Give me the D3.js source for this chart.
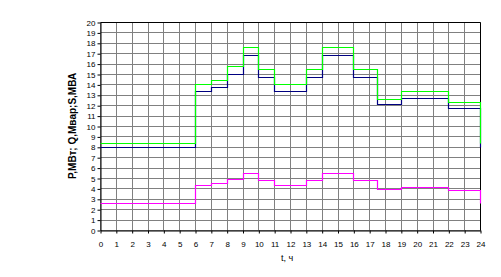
<!DOCTYPE html>
<html>
<head>
<meta charset="utf-8">
<script src="https://cdn.jsdelivr.net/npm/d3@7"></script>
<style>
  body { margin: 0; background: #fff; }
  text { font-family: "Liberation Sans", Arial, sans-serif; }
</style>
</head>
<body>
<div id="chart"></div>
<script>
// hour breakpoints of the load schedule
var hours = [0, 6, 7, 8, 9, 10, 11, 13, 14, 16, 17.5, 19, 22, 24];
// P, MW (navy)
var pValues = [8.0, 13.4, 13.75, 15.0, 16.8, 14.7, 13.4, 14.7, 16.8, 14.7, 12.1, 12.7, 11.75];
// S, MVA (green)
var sValues = [8.4, 14.05, 14.4, 15.8, 17.6, 15.5, 14.0, 15.5, 17.6, 15.5, 12.6, 13.35, 12.3];
// Q, Mvar (magenta)
var qValues = [2.6, 4.3, 4.5, 4.9, 5.5, 4.8, 4.3, 4.8, 5.5, 4.8, 3.9, 4.1, 3.8];

var xTicks = d3.range(0, 25);
var yTicks = d3.range(0, 21);

var svg = d3.select('#chart').append('svg')
    .attr('width', 501).attr('height', 277);

svg.append('rect').attr('width', 501).attr('height', 277).attr('fill', '#fff');

var x = d3.scaleLinear().domain([0, 24]).range([100.5, 480.5]);
var y = d3.scaleLinear().domain([0, 20]).range([230.5, 22.5]);

function px(v) { return Math.round(v - 0.5) + 0.5; }

// grid
var grid = svg.append('g');
grid.selectAll('.vg').data(xTicks).enter().append('line')
    .attr('x1', function(d) { return px(x(d)); })
    .attr('x2', function(d) { return px(x(d)); })
    .attr('y1', y(0)).attr('y2', y(20))
    .attr('stroke', '#808080').attr('stroke-width', 1);
grid.selectAll('.hg').data(yTicks).enter().append('line')
    .attr('y1', function(d) { return px(y(d)); })
    .attr('y2', function(d) { return px(y(d)); })
    .attr('x1', x(0)).attr('x2', x(24))
    .attr('stroke', '#808080').attr('stroke-width', 1);

// frame: top and right
svg.append('line').attr('x1', x(0)).attr('x2', x(24)).attr('y1', y(20)).attr('y2', y(20))
    .attr('stroke', '#000');
svg.append('line').attr('x1', x(24)).attr('x2', x(24)).attr('y1', y(20)).attr('y2', y(0))
    .attr('stroke', '#000');

// axes
var xAxis = d3.axisBottom(x).tickValues(xTicks).tickFormat(d3.format('d'))
    .tickSize(3).tickPadding(8).tickSizeOuter(0);
var yAxis = d3.axisLeft(y).tickValues(yTicks).tickFormat(d3.format('d'))
    .tickSize(3).tickPadding(2).tickSizeOuter(0);

var gx = svg.append('g').attr('transform', 'translate(0,' + y(0) + ')').call(xAxis);
var gy = svg.append('g').attr('transform', 'translate(' + x(0) + ',0)').call(yAxis);
[gx, gy].forEach(function(g) {
    g.selectAll('text').attr('font-size', 8).attr('fill', '#000')
        .style('font-family', '"Liberation Sans", Arial, sans-serif');
    g.selectAll('line, path').attr('stroke', '#000');
});

// series as steps, closing back to the starting value at 24 h
function stepPoints(vals) {
    var pts = vals.map(function(v, i) { return [hours[i], v]; });
    pts.push([24, vals[0]]);
    return pts;
}
var line = d3.line()
    .x(function(d) { return px(x(d[0])); })
    .y(function(d) { return px(y(d[1])); })
    .curve(d3.curveStepAfter);

var series = [
    {vals: pValues, color: '#000080'},
    {vals: sValues, color: '#00ff00'},
    {vals: qValues, color: '#ff00ff'}
];
series.forEach(function(s) {
    svg.append('path').datum(stepPoints(s.vals))
        .attr('d', line)
        .attr('fill', 'none')
        .attr('stroke', s.color)
        .attr('stroke-width', 1.2);
});

// axis titles
svg.append('text')
    .attr('x', 287).attr('y', 261)
    .attr('text-anchor', 'middle')
    .attr('font-size', 9)
    .text('t, ч');

svg.append('text')
    .attr('transform', 'translate(76,126) rotate(-90)')
    .attr('text-anchor', 'middle')
    .attr('font-size', 10)
    .attr('font-weight', 'bold')
    .text('P,МВт; Q,Мвар;S,МВА');
</script>
</body>
</html>
